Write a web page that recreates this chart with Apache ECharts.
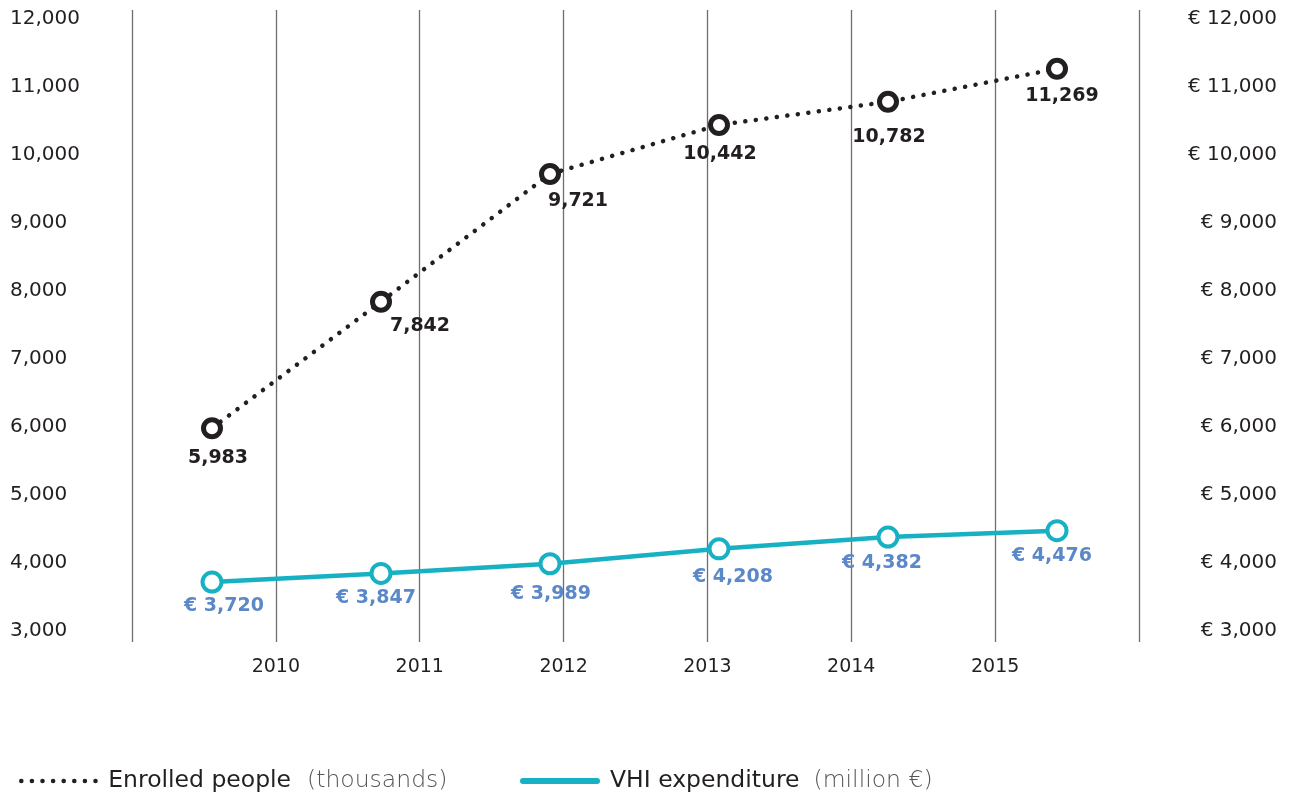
<!DOCTYPE html>
<html><head><meta charset="utf-8">
<script src="https://cdn.jsdelivr.net/npm/echarts@6/dist/echarts.min.js"></script>
<style>html,body{margin:0;padding:0;background:#fff}#c{width:1290px;height:793px}</style>
</head><body><div id="c"></div>
<script>
// ---- data ----
const years = ['2010', '2011', '2012', '2013', '2014', '2015'];
const enrolled = [5983, 7842, 9721, 10442, 10782, 11269];
const vhi = [3720, 3847, 3989, 4208, 4382, 4476];
const yMin = 3000, yMax = 12000, yStep = 1000;
const enrolledName = 'Enrolled people', enrolledUnit = '(thousands)';
const vhiName = 'VHI expenditure', vhiUnit = '(million €)';

// ---- label placement (style only) ----
const enrolledLabelOffsets = [[6, 30], [39, 24], [28, 27], [1, 29], [1, 35], [5, 27]];
const vhiLabelOffsets = [[12, 24], [-5, 25], [1, 30], [14, 28], [-6, 26], [-5, 25]];

const FONT = '"DejaVu Sans"';
const fmt = v => Number(v).toLocaleString('en-US');
const BLACK = '#231f20', TEAL = '#17b1c3', BLUE = '#5b88c8';
const DOTS = [0.1, 10.5];

const chart = echarts.init(document.getElementById('c'), null, {renderer: 'canvas'});
chart.setOption({
  animation: false,
  textStyle: {fontFamily: FONT},
  grid: [
    {left: 127.5, right: 148.5, top: 19, bottom: 162},
    {left: 132, right: 151, top: 10, bottom: 151}
  ],
  xAxis: [
    {type: 'category', gridIndex: 0, data: years, boundaryGap: true, show: false},
    {type: 'value', gridIndex: 1, min: 0, max: years.length + 1, interval: 1,
     axisLine: {show: false}, axisTick: {show: false},
     splitLine: {show: true, lineStyle: {color: '#6d6d6d', width: 1.3}},
     axisLabel: {margin: 16, fontSize: 19, color: BLACK, fontFamily: FONT,
       formatter: v => (v >= 1 && v <= years.length) ? years[v - 1] : ''}}
  ],
  yAxis: [
    {type: 'value', gridIndex: 0, min: yMin, max: yMax, interval: yStep, position: 'left',
     axisLine: {show: false}, axisTick: {show: false}, splitLine: {show: false},
     axisLabel: {align: 'left', margin: 117.5, fontSize: 20, color: BLACK, fontFamily: FONT, formatter: v => fmt(v)}},
    {type: 'value', gridIndex: 0, min: yMin, max: yMax, interval: yStep, position: 'right',
     axisLine: {show: false}, axisTick: {show: false}, splitLine: {show: false},
     axisLabel: {align: 'right', margin: 135.5, fontSize: 20, color: BLACK, fontFamily: FONT, formatter: v => '€ ' + fmt(v)}},
    {type: 'value', gridIndex: 1, show: false, min: 0, max: 1}
  ],
  legend: [
    {left: 14, top: 764, itemWidth: 82, itemHeight: 14, selectedMode: false, data: [enrolledName],
     itemStyle: {opacity: 0},
     lineStyle: {color: BLACK, width: 4.5, type: DOTS, cap: 'round'},
     formatter: n => '{a|' + n + '}{b|' + enrolledUnit + '}',
     textStyle: {rich: {
       a: {fontSize: 23.5, color: BLACK, fontFamily: FONT, padding: [0, 16, 0, 0]},
       b: {fontSize: 23.5, color: '#555', fontWeight: 200, fontFamily: FONT}}}},
    {left: 515, top: 764, itemWidth: 74, itemHeight: 14, selectedMode: false, data: [vhiName],
     itemStyle: {opacity: 0},
     lineStyle: {color: TEAL, width: 6, cap: 'round'},
     formatter: n => '{a|' + n + '}{b|' + vhiUnit + '}',
     textStyle: {rich: {
       a: {fontSize: 23.5, color: BLACK, fontFamily: FONT, padding: [0, 14, 0, 8]},
       b: {fontSize: 23.5, color: '#555', fontWeight: 200, fontFamily: FONT}}}}
  ],
  series: [
    {name: enrolledName, type: 'line', xAxisIndex: 0, yAxisIndex: 0, z: 3,
     data: enrolled.map((v, i) => ({value: v, label: {offset: enrolledLabelOffsets[i]}})),
     symbol: 'circle', symbolSize: 17,
     itemStyle: {color: '#fff', borderColor: BLACK, borderWidth: 5},
     lineStyle: {color: BLACK, width: 4.5, type: DOTS, cap: 'round'},
     label: {show: true, position: 'inside', color: BLACK, fontSize: 19, fontWeight: 'bold', fontFamily: FONT,
       formatter: p => fmt(p.value)},
     emphasis: {disabled: true}},
    {name: vhiName, type: 'line', xAxisIndex: 0, yAxisIndex: 1, z: 3,
     data: vhi.map((v, i) => ({value: v, label: {offset: vhiLabelOffsets[i]}})),
     symbol: 'circle', symbolSize: 19,
     itemStyle: {color: '#fff', borderColor: TEAL, borderWidth: 4},
     lineStyle: {color: TEAL, width: 4.5},
     label: {show: true, position: 'inside', color: BLUE, fontSize: 19, fontWeight: 'bold', fontFamily: FONT,
       formatter: p => '€ ' + fmt(p.value)},
     emphasis: {disabled: true}}
  ]
});
</script></body></html>
